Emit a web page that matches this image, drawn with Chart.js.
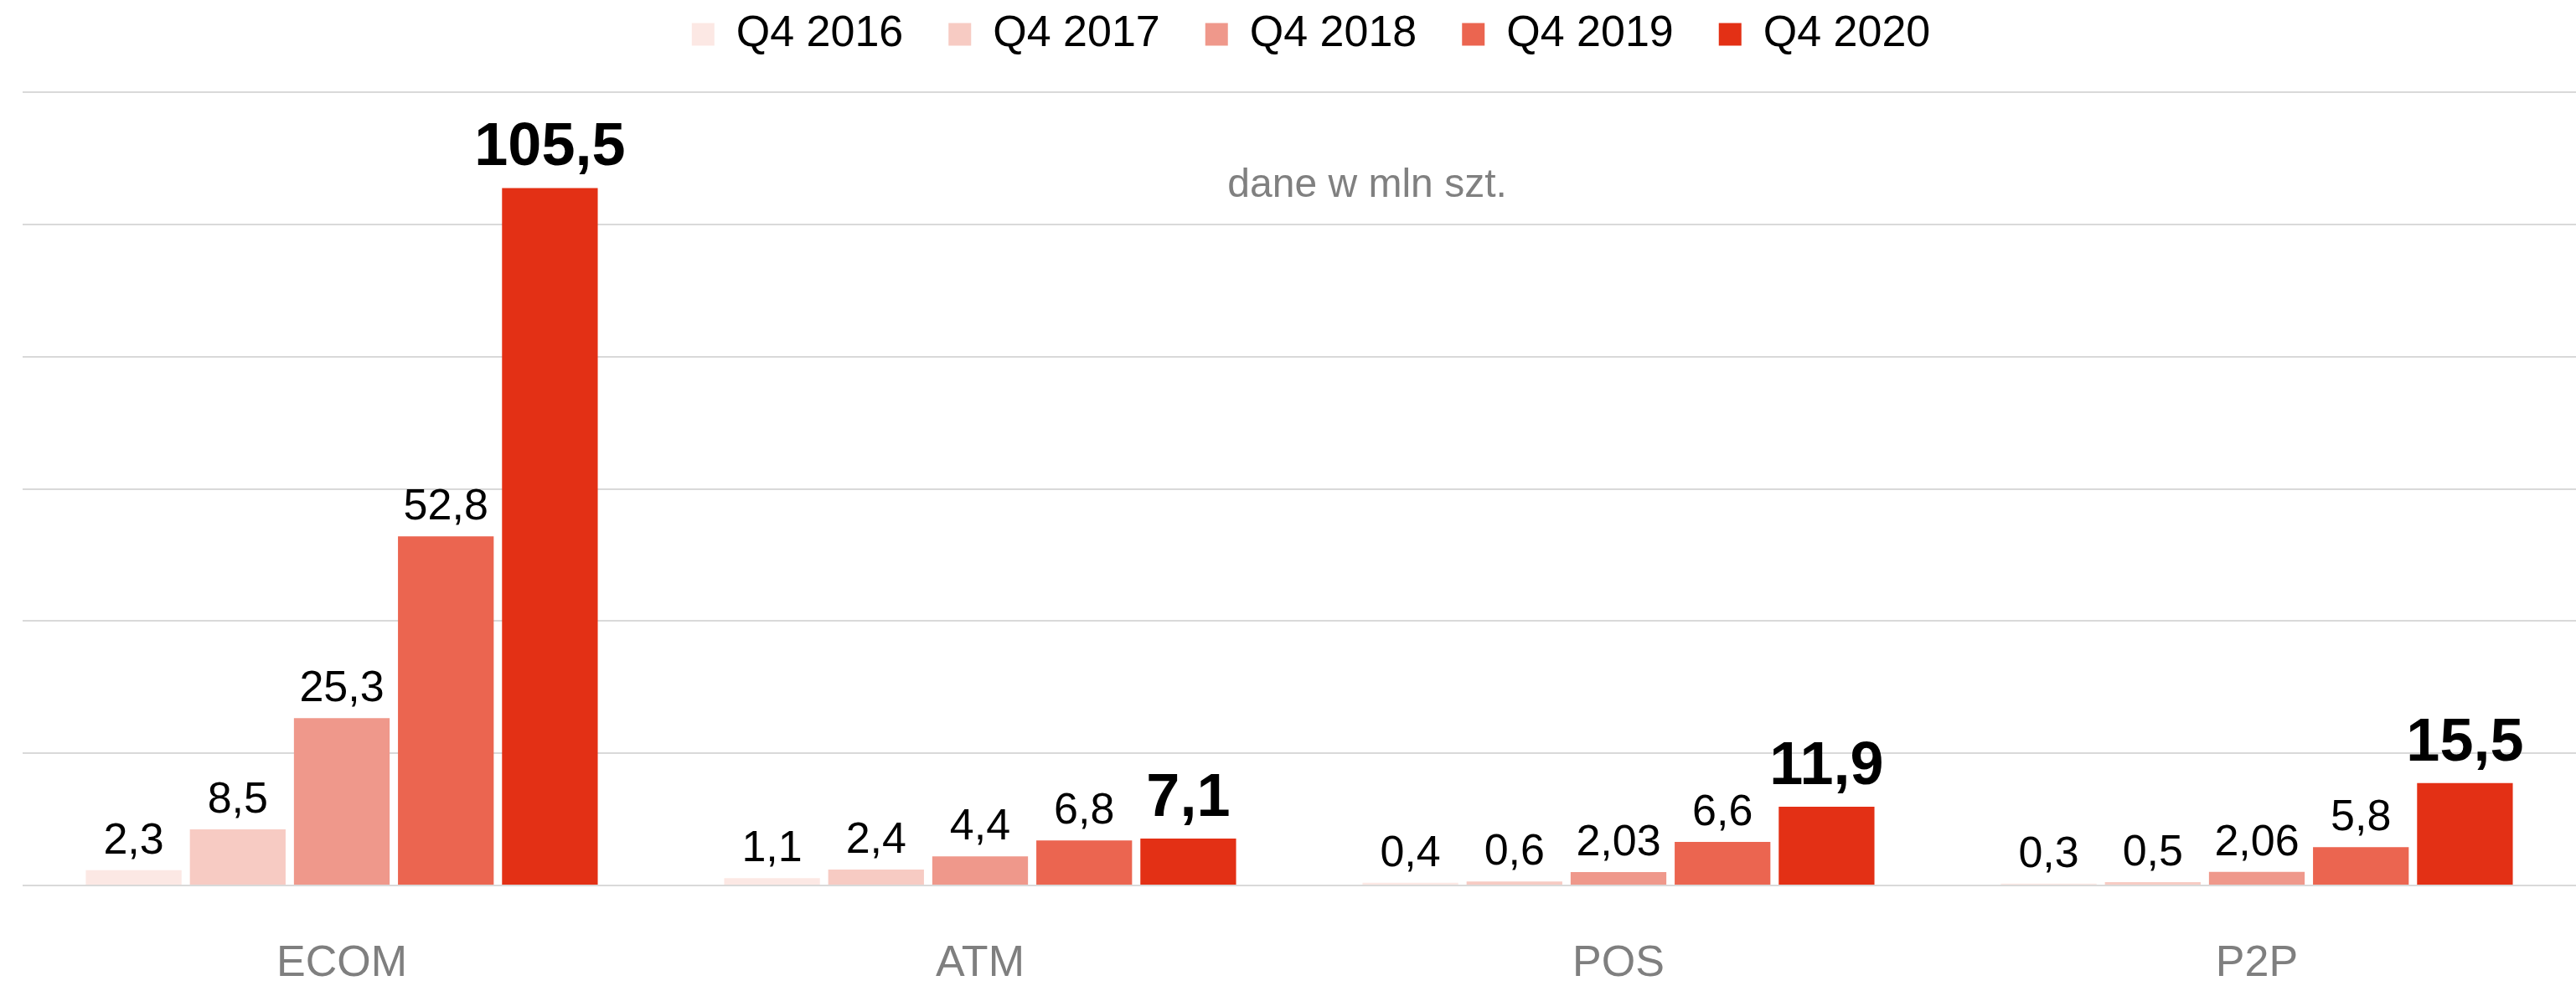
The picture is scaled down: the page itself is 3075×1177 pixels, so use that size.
<!DOCTYPE html>
<html>
<head>
<meta charset="utf-8">
<script src="https://cdn.jsdelivr.net/npm/chart.js@4/dist/chart.umd.min.js"></script>
<style>
  html, body { margin: 0; padding: 0; background: #fff; }
  #wrap { width: 3075px; height: 1177px; }
</style>
</head>
<body>
<div id="wrap"><canvas id="myChart" width="3075" height="1177"></canvas></div>
<script>
// dane
var kategorie = ['ECOM', 'ATM', 'POS', 'P2P'];
var serie = ['Q4 2016', 'Q4 2017', 'Q4 2018', 'Q4 2019', 'Q4 2020'];
var q4_2016 = [2.3, 1.1, 0.4, 0.3];
var q4_2017 = [8.5, 2.4, 0.6, 0.5];
var q4_2018 = [25.3, 4.4, 2.03, 2.06];
var q4_2019 = [52.8, 6.8, 6.6, 5.8];
var q4_2020 = [105.5, 7.1, 11.9, 15.5];
var kolory = ['#fce8e4', '#f7cbc3', '#ef988b', '#eb6550', '#e33015'];
var wartosci = [q4_2016, q4_2017, q4_2018, q4_2019, q4_2020];

var FONT = '"Liberation Sans", Arial, sans-serif';

// wysokość legendy na sztywno, lekko przesunięta w prawo
var legendaWys = {
    id: 'legendaWys',
    beforeInit: function (chart) {
        var fit = chart.legend.fit;
        chart.legend.fit = function () {
            fit.call(this);
            this.height = 149;
        };
    },
    afterLayout: function (chart) {
        chart.legend.left += 14;
        chart.legend.right += 14;
    }
};

// etykiety nad słupkami + podpis "dane w mln szt."
var etykiety = {
    id: 'etykiety',
    afterDatasetsDraw: function (chart) {
        var ctx = chart.ctx;
        ctx.save();
        chart.data.datasets.forEach(function (ds, i) {
            var meta = chart.getDatasetMeta(i);
            var last = i === chart.data.datasets.length - 1;
            ctx.font = (last ? 'bold 72px ' : '52px ') + FONT;
            ctx.fillStyle = '#000';
            ctx.textAlign = 'center';
            ctx.textBaseline = 'alphabetic';
            meta.data.forEach(function (bar, j) {
                var txt = String(ds.data[j]).replace('.', ',');
                ctx.fillText(txt, bar.x, bar.y - (last ? 27 : 20));
            });
        });
        var a = chart.chartArea;
        ctx.font = '48px ' + FONT;
        ctx.fillStyle = '#808080';
        ctx.textAlign = 'center';
        ctx.textBaseline = 'middle';
        ctx.fillText('dane w mln szt.', a.left + (a.right - a.left) * 0.5266, 222);
        ctx.restore();
    }
};

var ctx = document.getElementById('myChart').getContext('2d');
var chart = new Chart(ctx, {
    type: 'bar',
    data: {
        labels: kategorie,
        datasets: serie.map(function (s, i) {
            return {
                label: s,
                data: wartosci[i],
                backgroundColor: kolory[i],
                borderWidth: 0,
                categoryPercentage: 0.815,
                barPercentage: 0.92
            };
        })
    },
    options: {
        responsive: false,
        animation: false,
        layout: { padding: { top: -39, left: 27, right: 0, bottom: 0 } },
        plugins: {
            legend: {
                position: 'top',
                labels: {
                    boxWidth: 27,
                    boxHeight: 27,
                    padding: 54,
                    color: '#000',
                    font: { family: FONT, size: 52 }
                }
            },
            tooltip: { enabled: false }
        },
        scales: {
            x: {
                grid: { display: false, drawTicks: false },
                border: { display: false },
                ticks: { color: '#7f7f7f', padding: 62, font: { family: FONT, size: 52 } },
                afterFit: function (scale) { scale.height = 120; }
            },
            y: {
                min: 0,
                max: 120,
                ticks: { display: false, stepSize: 20 },
                border: { display: false },
                grid: { color: '#d9d9d9', lineWidth: 2, drawTicks: false }
            }
        }
    },
    plugins: [legendaWys, etykiety]
});
</script>
</body>
</html>
